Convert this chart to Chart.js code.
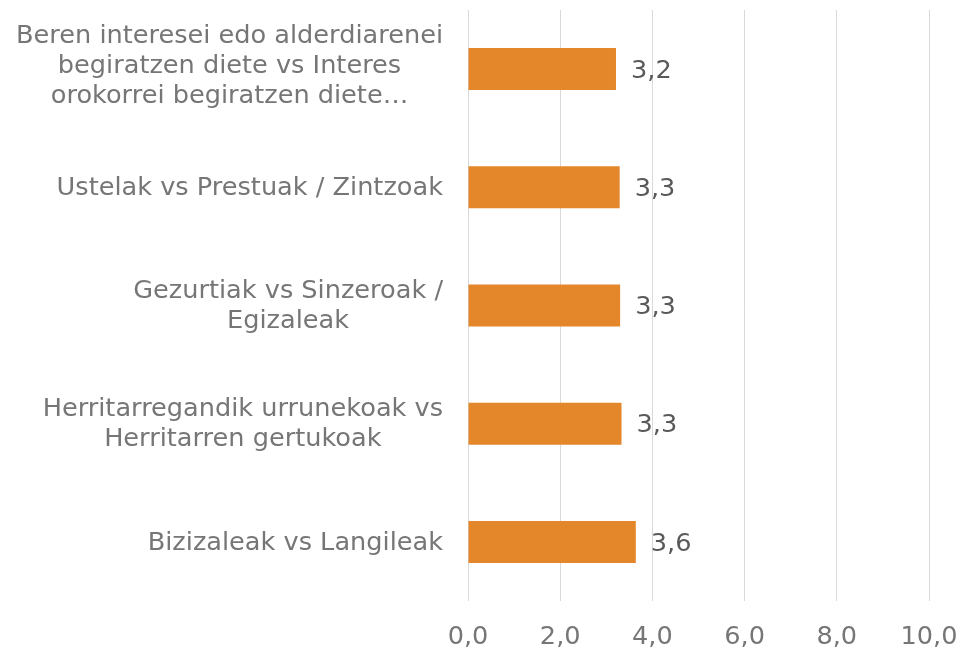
<!DOCTYPE html>
<html>
<head>
<meta charset="utf-8">
<script src="https://cdn.jsdelivr.net/npm/chart.js@4"></script>
<style>
  html, body { margin: 0; padding: 0; background: #ffffff; }
  #wrap { width: 962px; height: 649px; position: relative; }
</style>
</head>
<body>
<div id="wrap"><canvas id="c"></canvas></div>
<script>
const categories = [
  ["Beren interesei edo alderdiarenei", "begiratzen diete vs Interes", "orokorrei begiratzen diete…"],
  ["Ustelak vs Prestuak / Zintzoak"],
  ["Gezurtiak vs Sinzeroak /", "Egizaleak"],
  ["Herritarregandik urrunekoak vs", "Herritarren gertukoak"],
  ["Bizizaleak vs Langileak"]
];
const values = [3.21, 3.29, 3.30, 3.33, 3.64];
const xTicks = [0, 2, 4, 6, 8, 10];

const FONT = "'DejaVu Sans', Verdana, sans-serif";
const fmt = v => v.toFixed(1).replace('.', ',');

const labelPlugin = {
  id: 'catLabels',
  afterDraw(chart) {
    const ctx = chart.ctx;
    const y = chart.scales.y;
    const area = chart.chartArea;
    ctx.save();
    ctx.font = "25.6px " + FONT;
    ctx.fillStyle = '#767676';
    ctx.textAlign = 'center';
    ctx.textBaseline = 'middle';
    const lh = 30;
    categories.forEach((lines, i) => {
      const cy = y.getPixelForTick(i) + 1 - (lines.length > 2 ? 4 : 0);
      const w = Math.max(...lines.map(l => ctx.measureText(l).width));
      const cx = area.left - 25 - w / 2;
      const start = cy - (lines.length - 1) * lh / 2;
      lines.forEach((l, k) => ctx.fillText(l, cx, start + k * lh));
    });
    ctx.restore();
  },
  afterDatasetsDraw(chart) {
    const ctx = chart.ctx;
    const meta = chart.getDatasetMeta(0);
    ctx.save();
    ctx.font = "25.6px " + FONT;
    ctx.fillStyle = '#595959';
    ctx.textAlign = 'left';
    ctx.textBaseline = 'middle';
    meta.data.forEach((bar, i) => {
      ctx.fillText(fmt(values[i]), bar.x + 15, bar.y + 2);
    });
    ctx.restore();
  }
};

new Chart(document.getElementById('c'), {
  type: 'bar',
  data: {
    labels: categories.map(c => c.join(' ')),
    datasets: [{
      data: values,
      backgroundColor: '#E4862A',
      borderWidth: 0,
      barPercentage: 0.71,
      categoryPercentage: 0.5
    }]
  },
  options: {
    indexAxis: 'y',
    responsive: true,
    maintainAspectRatio: false,
    animation: false,
    layout: { padding: { top: 10, right: 33, left: 0, bottom: 0 } },
    plugins: { legend: { display: false }, tooltip: { enabled: false } },
    scales: {
      x: {
        min: 0, max: 10,
        afterBuildTicks: s => { s.ticks = xTicks.map(v => ({ value: v })); },
        afterFit: s => { s.height = 48; s.paddingLeft = 0; s.paddingRight = 0; },
        grid: { color: '#d9d9d9', lineWidth: 1, drawTicks: false },
        border: { display: false },
        ticks: {
          color: '#767676',
          font: { size: 25.6, family: FONT },
          padding: 21,
          callback: v => fmt(v)
        }
      },
      y: {
        afterFit: s => { s.width = 468; s.paddingTop = 0; s.paddingBottom = 0; },
        grid: { display: false },
        border: { display: false },
        ticks: { display: false }
      }
    }
  },
  plugins: [labelPlugin]
});
</script>
</body>
</html>
